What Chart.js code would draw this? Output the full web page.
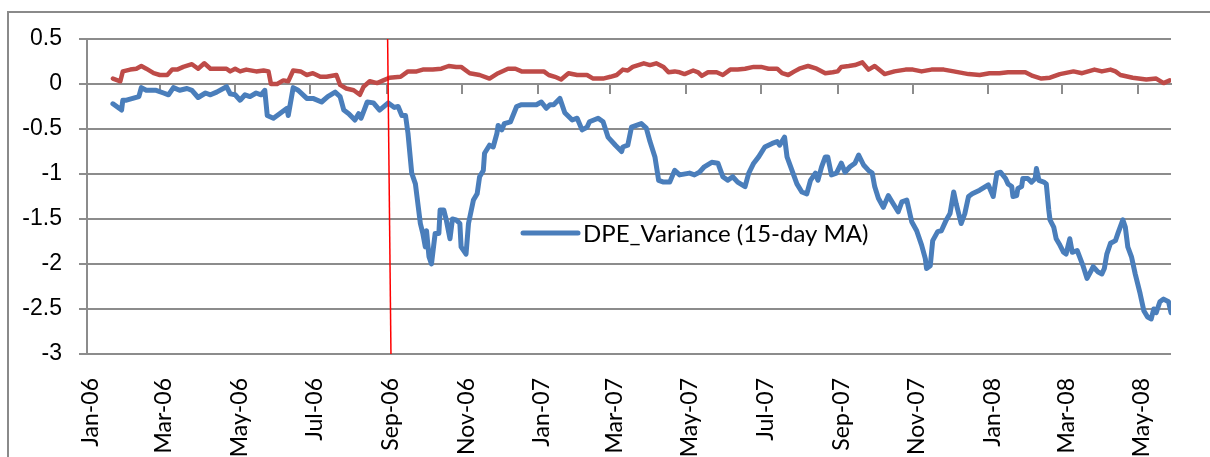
<!DOCTYPE html>
<html><head><meta charset="utf-8">
<script src="https://cdn.jsdelivr.net/npm/chart.js@4.4.1/dist/chart.umd.min.js"></script>
<style>
html,body{margin:0;padding:0;background:#fff;overflow:hidden}
#wrap{position:relative;width:1210px;height:457px}
canvas{position:absolute;left:0;top:0}
</style></head><body>
<div id="wrap"><canvas id="c" width="1210" height="457"></canvas></div>
<script>
// Days counted from 1 Jan 2006
const seriesName = 'DPE_Variance (15-day MA)';
const blueDays = [21,28,29,32,37,42,44,48,56,62,66,70,75,81,85,90,96,100,105,113,116,120,124,128,132,137,141,144,146,151,156,162,163,167,171,178,183,190,195,201,205,208,212,217,220,222,227,232,237,244,249,252,255,258,260,263,266,268,270,272,274,275,277,279,282,285,286,289,291,294,296,299,302,303,307,309,313,316,318,321,322,326,329,332,333,336,338,343,348,352,364,368,372,375,378,383,387,393,397,401,405,407,414,418,422,428,433,434,438,441,445,449,453,456,460,463,467,472,476,480,488,492,496,500,506,511,515,519,523,527,533,536,540,544,549,555,559,561,565,567,571,575,579,583,586,590,592,595,598,600,603,607,611,614,618,622,625,629,633,636,638,641,645,649,653,657,660,664,668,672,676,679,680,683,685,689,692,696,699,702,704,708,711,714,717,723,730,734,737,740,744,746,749,750,753,754,757,758,762,765,768,769,771,775,777,779,780,783,785,788,791,793,796,798,802,804,807,810,812,815,819,822,824,826,829,833,835,839,841,843,846,849,853,856,859,862,864,866,869,872,876,878];
const blueValues = [-0.22,-0.29,-0.18,-0.18,-0.16,-0.14,-0.04,-0.07,-0.07,-0.10,-0.12,-0.04,-0.07,-0.05,-0.07,-0.15,-0.10,-0.12,-0.09,-0.03,-0.11,-0.12,-0.18,-0.12,-0.14,-0.10,-0.12,-0.07,-0.35,-0.38,-0.33,-0.27,-0.35,-0.04,-0.07,-0.16,-0.16,-0.20,-0.14,-0.09,-0.14,-0.29,-0.33,-0.40,-0.33,-0.38,-0.20,-0.21,-0.29,-0.21,-0.26,-0.25,-0.35,-0.35,-0.55,-0.99,-1.11,-1.33,-1.55,-1.66,-1.81,-1.63,-1.92,-2.00,-1.66,-1.66,-1.40,-1.40,-1.51,-1.72,-1.50,-1.51,-1.55,-1.81,-1.89,-1.55,-1.29,-1.22,-1.03,-0.96,-0.77,-0.68,-0.70,-0.55,-0.46,-0.51,-0.44,-0.42,-0.25,-0.23,-0.23,-0.20,-0.27,-0.23,-0.23,-0.16,-0.32,-0.40,-0.38,-0.51,-0.48,-0.42,-0.38,-0.42,-0.59,-0.68,-0.75,-0.70,-0.68,-0.48,-0.46,-0.44,-0.49,-0.64,-0.81,-1.07,-1.09,-1.09,-0.96,-1.01,-0.99,-1.01,-0.98,-0.92,-0.87,-0.88,-1.03,-1.07,-1.03,-1.09,-1.14,-0.99,-0.88,-0.81,-0.70,-0.66,-0.64,-0.68,-0.59,-0.81,-0.96,-1.11,-1.20,-1.22,-1.07,-0.99,-1.07,-0.92,-0.81,-0.81,-1.01,-0.99,-0.88,-0.98,-0.92,-0.88,-0.79,-0.90,-0.96,-0.99,-1.14,-1.27,-1.37,-1.24,-1.33,-1.42,-1.31,-1.29,-1.53,-1.63,-1.79,-1.94,-2.05,-2.02,-1.74,-1.64,-1.63,-1.51,-1.44,-1.20,-1.33,-1.55,-1.44,-1.25,-1.22,-1.18,-1.12,-1.25,-0.99,-0.98,-1.05,-1.11,-1.14,-1.25,-1.24,-1.16,-1.14,-1.05,-1.05,-1.09,-1.05,-0.94,-1.07,-1.09,-1.11,-1.40,-1.51,-1.59,-1.72,-1.79,-1.87,-1.89,-1.72,-1.87,-1.85,-1.92,-2.03,-2.16,-2.11,-2.03,-2.09,-2.11,-2.05,-1.89,-1.77,-1.74,-1.66,-1.51,-1.59,-1.81,-1.92,-2.11,-2.33,-2.52,-2.59,-2.61,-2.50,-2.54,-2.42,-2.39,-2.42,-2.54];
const redDays = [21,27,29,35,40,44,48,54,59,65,69,73,78,85,90,95,100,108,113,116,120,124,129,137,143,147,149,154,159,163,167,173,178,183,189,194,202,205,210,216,221,224,229,235,240,245,254,260,267,272,280,287,293,299,303,310,318,326,333,341,347,352,364,370,374,379,384,390,397,405,410,418,424,429,434,438,442,451,456,461,467,471,476,480,484,491,495,498,503,510,515,521,527,533,540,546,552,559,563,568,573,577,584,591,598,604,608,611,617,622,628,633,638,646,654,663,669,676,684,694,702,714,723,731,739,746,753,760,766,773,780,788,799,806,816,822,829,833,837,847,858,866,872,877];
const redValues = [0.06,0.03,0.14,0.16,0.17,0.20,0.17,0.12,0.10,0.10,0.16,0.16,0.19,0.22,0.17,0.23,0.17,0.17,0.17,0.14,0.17,0.14,0.16,0.14,0.15,0.14,0.00,0.00,0.04,0.03,0.15,0.14,0.10,0.12,0.08,0.08,0.10,-0.01,-0.05,-0.07,-0.12,-0.03,0.03,0.01,0.04,0.07,0.08,0.14,0.14,0.16,0.16,0.17,0.20,0.19,0.19,0.12,0.10,0.06,0.12,0.17,0.17,0.14,0.14,0.14,0.10,0.08,0.05,0.12,0.10,0.10,0.06,0.06,0.08,0.10,0.16,0.15,0.19,0.23,0.21,0.23,0.19,0.13,0.14,0.13,0.11,0.15,0.13,0.09,0.13,0.13,0.10,0.16,0.16,0.17,0.19,0.19,0.17,0.17,0.12,0.10,0.14,0.17,0.20,0.17,0.12,0.13,0.14,0.19,0.20,0.21,0.24,0.16,0.20,0.11,0.14,0.16,0.16,0.14,0.16,0.16,0.14,0.11,0.10,0.12,0.12,0.13,0.13,0.13,0.09,0.06,0.07,0.11,0.14,0.12,0.16,0.14,0.16,0.14,0.10,0.07,0.05,0.06,0.01,0.04];
// vertical marker line (event date)
const eventDays = [243.5, 246.2];
const eventValues = [0.5, -3];
// x-axis ticks: first day of every second month
const xTickDays = [0,59,120,181,243,304,365,424,485,546,608,669,730,790,851];
const xTickLabels = ['Jan-06','Mar-06','May-06','Jul-06','Sep-06','Nov-06','Jan-07','Mar-07','May-07','Jul-07','Sep-07','Nov-07','Jan-08','Mar-08','May-08'];
const xMinDay = 0, xMaxDay = 878;
const yMin = -3, yMax = 0.5, yStep = 0.5;

const toPts = (xs, ys) => xs.map((x, i) => ({x: x, y: ys[i]}));
const GRID = '#8c8c8c';
const setTicks = s => { s.ticks = xTickDays.map(v => ({value: v})); };

const frame = {
  id: 'frame',
  beforeDraw(chart) {
    const c = chart.ctx;
    c.save();
    c.strokeStyle = '#8a8a8a'; c.lineWidth = 2;
    c.strokeRect(8, 12, 1400, 600);
    c.restore();
  }
};
const legendBox = {
  id: 'legendBox',
  afterDraw(chart) {
    const c = chart.ctx, a = chart.chartArea;
    const ds = chart.data.datasets[1];
    const x0 = a.left + 436, y0 = a.top + 194;
    c.save();
    c.strokeStyle = ds.borderColor; c.lineWidth = ds.borderWidth; c.lineCap = 'round';
    c.beginPath(); c.moveTo(x0, y0); c.lineTo(x0 + 55, y0); c.stroke();
    c.fillStyle = '#000'; c.font = '24px Lato'; c.textBaseline = 'middle';
    c.fillText(ds.label, x0 + 60, y0 + 1);
    c.restore();
  }
};

new Chart(document.getElementById('c'), {
  type: 'line',
  data: {
    datasets: [
      {label: 'Event', data: toPts(eventDays, eventValues), borderColor: '#ff0000', borderWidth: 1.5, pointRadius: 0, order: 0},
      {label: seriesName, data: toPts(blueDays, blueValues), borderColor: '#4a7ebb', borderWidth: 5, pointRadius: 0, tension: 0, borderJoinStyle: 'round', borderCapStyle: 'round', order: 1},
      {label: 'Series 2', data: toPts(redDays, redValues), borderColor: '#be4b48', borderWidth: 4.5, pointRadius: 0, tension: 0, borderJoinStyle: 'round', borderCapStyle: 'round', order: 2}
    ]
  },
  options: {
    responsive: false, animation: false, devicePixelRatio: 1,
    layout: {padding: {left: 0, right: 39, top: 39, bottom: 0}},
    plugins: {legend: {display: false}, tooltip: {enabled: false}},
    scales: {
      x: {
        type: 'linear', position: 'bottom', min: xMinDay, max: xMaxDay,
        afterBuildTicks: setTicks,
        afterFit: s => { s.height = 103; },
        grid: {display: false}, border: {display: false},
        ticks: {autoSkip: false, minRotation: 90, maxRotation: 90, padding: 16, labelOffset: 4, color: '#000',
          font: {family: 'Lato', size: 23},
          callback: (v, i) => xTickLabels[i]}
      },
      x0: {
        type: 'linear', axis: 'x', position: {y: 0}, min: xMinDay, max: xMaxDay,
        afterBuildTicks: setTicks,
        grid: {drawOnChartArea: false, drawTicks: true, tickLength: 9, color: GRID, lineWidth: 2},
        border: {display: true, color: GRID, width: 2},
        ticks: {display: false}
      },
      y: {
        type: 'linear', min: yMin, max: yMax,
        afterFit: s => { s.width = 87; },
        grid: {color: GRID, lineWidth: 2, tickLength: 8, drawTicks: true},
        border: {color: GRID, width: 2},
        ticks: {stepSize: yStep, padding: 17, color: '#000', font: {family: 'Liberation Sans', size: 23},
          callback: v => String(Math.round(v * 10) / 10)}
      }
    }
  },
  plugins: [frame, legendBox]
});
</script>
</body></html>
